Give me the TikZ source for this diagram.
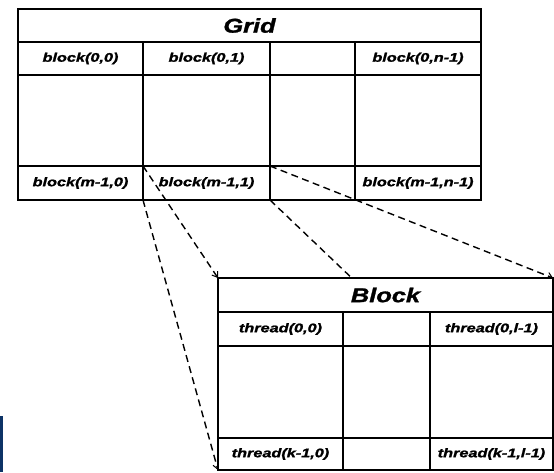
\documentclass[tikz,border=0pt]{standalone}
\usepackage{fontspec}
\setmainfont{Liberation Sans}[BoldItalicFeatures={FakeBold=1.2}]
\usetikzlibrary{arrows.meta}
\definecolor{navy}{HTML}{0D3366}
\newcommand\celltxt[1]{\scalebox{1.3}[1]{\fontsize{12.5}{14}\selectfont\bfseries\itshape #1}}
\newcommand\titletxt[1]{\scalebox{1.27}[1]{\fontsize{20}{22}\selectfont\bfseries\itshape #1}}
\begin{document}
\begin{tikzpicture}[x=1pt,y=-1pt,
  frame/.style={line width=1.4pt,black},
  lab/.style={inner sep=0pt,anchor=center},
  link/.style={line width=1.4pt,dash pattern=on 7pt off 4.5pt},
  tip/.style={-{Straight Barb[length=5pt,width=7pt,line width=1pt]}}]
\useasboundingbox (0,0) rectangle (554,472);
\fill[navy] (0,416) rectangle (2.6,472);
% ---------- Grid ----------
\draw[frame] (18,9) rectangle (481,200);
\foreach \yy in {42,75,166} \draw[frame] (18,\yy) -- (481,\yy);
\foreach \xx in {143,270,355} \draw[frame] (\xx,42) -- (\xx,200);
\node[lab] (gtitle) at (249.5,25.5) {\titletxt{Grid}};
\node[lab] (g00) at (80.5,58.5) {\celltxt{block(0,0)}};
\node[lab] (g01) at (206.5,58.5) {\celltxt{block(0,1)}};
\node[lab] (g0n) at (418,58.5) {\celltxt{block(0,n-1)}};
\node[lab] (gm0) at (80.5,183) {\celltxt{block(m-1,0)}};
\node[lab] (gm1) at (206.5,183) {\celltxt{block(m-1,1)}};
\node[lab] (gmn) at (418,183) {\celltxt{block(m-1,n-1)}};
% corners of cell block(m-1,1)
\coordinate (ctl) at (143,166);
\coordinate (ctr) at (270,166);
\coordinate (cbl) at (143,200);
\coordinate (cbr) at (270,200);
% corners of Block
\coordinate (btl) at (218,278);
\coordinate (btr) at (553,278);
\coordinate (bbl) at (218,470);
\coordinate (bbr) at (553,470);
% ---------- connectors ----------
\draw[link,tip] (cbl) -- (bbl);
\draw[link,tip] (ctl) -- (btl);
\draw[link,tip] (ctr) -- (btr);
\draw[link] (cbr) -- (bbr);
% ---------- Block ----------
\fill[white] (btl) rectangle (bbr);
\draw[frame] (btl) rectangle (bbr);
\foreach \yy in {312,346,438} \draw[frame] (218,\yy) -- (553,\yy);
\foreach \xx in {343,430} \draw[frame] (\xx,312) -- (\xx,470);
\node[lab] (btitle) at (385.5,295) {\titletxt{Block}};
\node[lab] (t00) at (280.5,329) {\celltxt{thread(0,0)}};
\node[lab] (t0l) at (491.5,329) {\celltxt{thread(0,l-1)}};
\node[lab] (tk0) at (280.5,454) {\celltxt{thread(k-1,0)}};
\node[lab] (tkl) at (491.5,454) {\celltxt{thread(k-1,l-1)}};
\end{tikzpicture}
\end{document}
